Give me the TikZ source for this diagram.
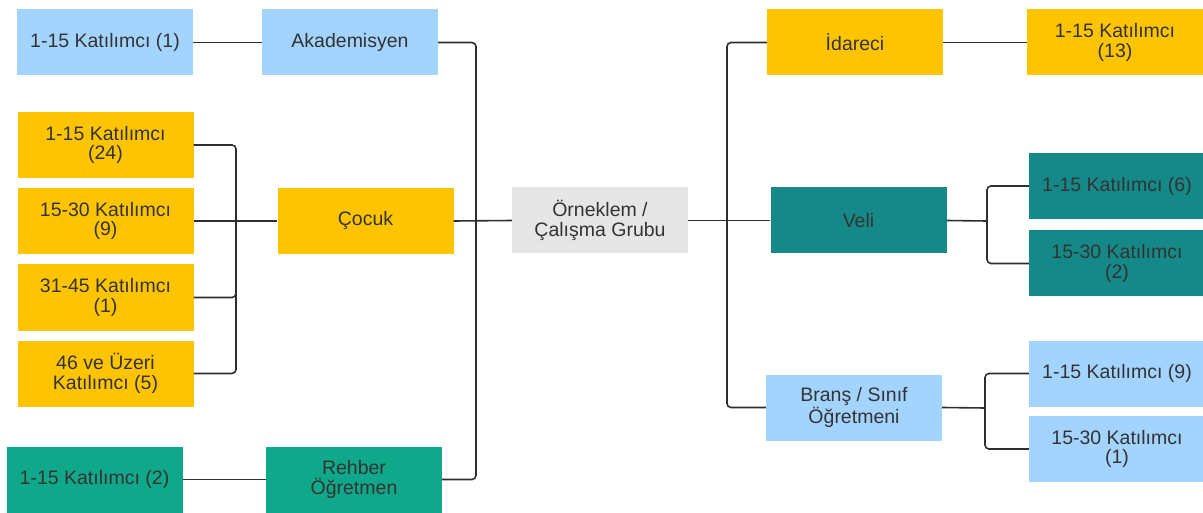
\documentclass[tikz,border=0pt]{standalone}
\usepackage{fontspec}
\setmainfont{Liberation Sans}
\usetikzlibrary{positioning}
\definecolor{lblue}{HTML}{A3D3FF}
\definecolor{gold}{HTML}{FFC400}
\definecolor{green1}{HTML}{10A88A}
\definecolor{teal1}{HTML}{158888}
\definecolor{lgray}{HTML}{E6E6E6}
\definecolor{ink}{HTML}{333333}
\definecolor{wire}{HTML}{2E2E2E}

\begin{document}
\begin{tikzpicture}[x=1pt,y=-1pt,
  box/.style={minimum width=176pt,minimum height=66pt,inner sep=0pt,align=center,
    text=ink,font=\fontsize{19.5}{19.5}\selectfont},
  blu/.style={box,fill=lblue},
  yel/.style={box,fill=gold},
  grn/.style={box,fill=green1},
  tea/.style={box,fill=teal1},
  gry/.style={box,fill=lgray},
  link/.style={draw=wire,line width=1.6pt,rounded corners=4pt}]
\useasboundingbox (0,0) rectangle (1203,513);
\node[blu] (k1) at (105,42.5) {1-15 Katılımcı (1)};
\node[blu] (akad) at (350,42.5) {Akademisyen};
\node[yel] (c1) at (105.5,145) {1-15 Katılımcı\\(24)};
\node[yel] (c2) at (105.5,221) {15-30 Katılımcı\\(9)};
\node[yel] (c3) at (105.5,297.5) {31-45 Katılımcı\\(1)};
\node[yel] (c4) at (105.5,373.5) {46 ve Üzeri\\Katılımcı (5)};
\node[yel] (cocuk) at (365.5,221) {Çocuk};
\node[grn] (r1) at (94.5,479.5) {1-15 Katılımcı (2)};
\node[grn] (rehber) at (354,479.5) {Rehber\\Öğretmen};
\node[gry] (ornek) at (600,220.5) {Örneklem /\\Çalışma Grubu};
\node[yel] (idare) at (855,42.5) {İdareci};
\node[yel] (i1) at (1115,42.5) {1-15 Katılımcı\\(13)};
\node[tea] (veli) at (858.5,220.5) {Veli};
\node[tea] (v1) at (1117,186) {1-15 Katılımcı (6)};
\node[tea] (v2) at (1117,263.5) {15-30 Katılımcı\\(2)};
\node[blu] (brans) at (854,407.5) {Branş / Sınıf\\Öğretmeni};
\node[blu] (b1) at (1117,373.5) {1-15 Katılımcı (9)};
\node[blu] (b2) at (1117,449) {15-30 Katılımcı\\(1)};

\coordinate (jC) at (236,221);
\coordinate (jL) at (476,221);
\coordinate (jR) at (727,221);
\coordinate (jV) at (987,221);
\coordinate (jB) at (985,408);

\path[link] (k1) -- (akad);
\path[link] (r1) -- (rehber);
\path[link] (idare) -- (i1);
\path[link] (c1.east) -| (jC);
\path[link] (c3.east) -| (jC);
\path[link] (c4.east) -| (jC);
\path[link] (c2.east) -- (cocuk.west);
\path[link] (akad.east) -| (jL);
\path[link] (rehber.east) -| (jL);
\path[link] (cocuk.east) -- (ornek.west);
\path[link] (ornek.east) -- (veli.west);
\path[link] (jR) |- (idare.west);
\path[link] (jR) |- (brans.west);
\path[link] (veli.east) -- (jV);
\path[link] (jV) |- (v1.west);
\path[link] (jV) |- (v2.west);
\path[link] (brans.east) -- (jB);
\path[link] (jB) |- (b1.west);
\path[link] (jB) |- (b2.west);
\end{tikzpicture}
\end{document}
